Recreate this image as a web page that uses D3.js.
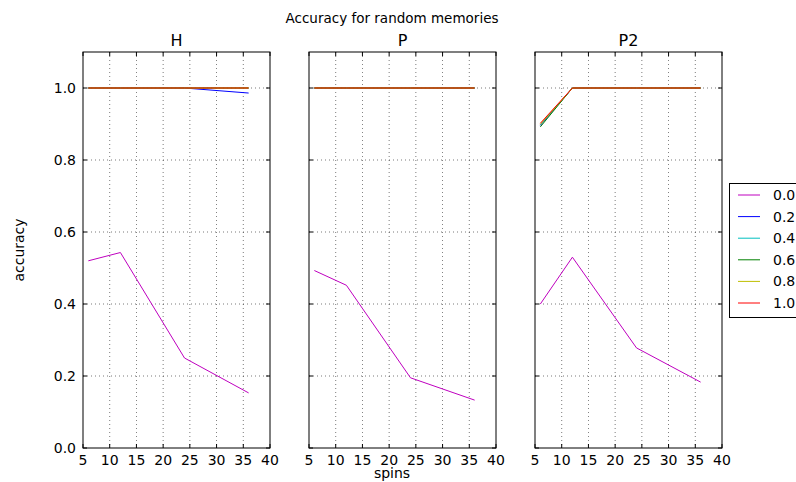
<html lang="en">
<head>
<meta charset="utf-8">
<script src="https://cdn.jsdelivr.net/npm/d3@7"></script>
<style>
  body { margin: 0; background: #fff; }
  text { font-family: "DejaVu Sans", sans-serif; fill: #000; }
  .grid line { stroke: #000; stroke-dasharray: 1,3; stroke-width: 0.7; opacity: 0.75; }
  .line { fill: none; stroke-width: 1; }
</style>
</head>
<body>
<div id="chart"></div>
<script>
var spins = [6, 12, 24, 36];
var noiseLevels = ["0.0", "0.2", "0.4", "0.6", "0.8", "1.0"];
var colors = ["#bf00bf", "#0000ff", "#00bfbf", "#008000", "#bfbf00", "#ff0000"];
var xTicks = [5, 10, 15, 20, 25, 30, 35, 40];
var yTicks = [0.0, 0.2, 0.4, 0.6, 0.8, 1.0];
var panelNames = ["H", "P", "P2"];

// accuracy per noise level, one array per panel
var accH = [
  [0.520, 0.543, 0.250, 0.153],
  [1.0, 1.0, 1.0, 0.986],
  [1.0, 1.0, 1.0, 1.0],
  [1.0, 1.0, 1.0, 1.0],
  [1.0, 1.0, 1.0, 1.0],
  [1.0, 1.0, 1.0, 1.0]
];
var accP = [
  [0.493, 0.452, 0.195, 0.133],
  [1.0, 1.0, 1.0, 1.0],
  [1.0, 1.0, 1.0, 1.0],
  [1.0, 1.0, 1.0, 1.0],
  [1.0, 1.0, 1.0, 1.0],
  [1.0, 1.0, 1.0, 1.0]
];
var accP2 = [
  [0.400, 0.530, 0.278, 0.183],
  [0.896, 1.0, 1.0, 1.0],
  [0.898, 1.0, 1.0, 1.0],
  [0.892, 1.0, 1.0, 1.0],
  [0.899, 1.0, 1.0, 1.0],
  [0.902, 1.0, 1.0, 1.0]
];
var panels = [accH, accP, accP2];

var width = 796, height = 482;
var svg = d3.select("#chart").append("svg")
  .attr("width", width).attr("height", height);

var panelLeft = [83, 309, 535], panelW = 187;
var plotTop = 52, plotBottom = 448;

var y = d3.scaleLinear().domain([0, 1.1]).range([plotBottom, plotTop]);

svg.append("text").attr("x", 392).attr("y", 23)
  .attr("text-anchor", "middle").style("font-size", "13.5px")
  .text("Accuracy for random memories");

panels.forEach(function(acc, p) {
  var x = d3.scaleLinear().domain([5, 40]).range([panelLeft[p], panelLeft[p] + panelW]);
  var g = svg.append("g");

  // grid
  var grid = g.append("g").attr("class", "grid");
  grid.selectAll(".gx").data(xTicks.slice(1, -1)).enter().append("line")
    .attr("x1", d => x(d)).attr("x2", d => x(d)).attr("y1", plotTop).attr("y2", plotBottom);
  grid.selectAll(".gy").data(yTicks.slice(1)).enter().append("line")
    .attr("x1", x(5)).attr("x2", x(40)).attr("y1", d => y(d)).attr("y2", d => y(d));

  // lines
  var line = d3.line().x((d, i) => x(spins[i])).y(d => y(d));
  acc.forEach(function(vals, k) {
    g.append("path").attr("class", "line")
      .attr("d", line(vals)).style("stroke", colors[k]);
  });

  // ticks (inward, both sides)
  var tk = g.append("g").style("stroke", "#000").style("stroke-width", 1);
  xTicks.forEach(function(t) {
    tk.append("line").attr("x1", x(t)).attr("x2", x(t)).attr("y1", plotBottom).attr("y2", plotBottom - 4);
    tk.append("line").attr("x1", x(t)).attr("x2", x(t)).attr("y1", plotTop).attr("y2", plotTop + 4);
  });
  yTicks.forEach(function(t) {
    tk.append("line").attr("x1", x(5)).attr("x2", x(5) + 4).attr("y1", y(t)).attr("y2", y(t));
    tk.append("line").attr("x1", x(40)).attr("x2", x(40) - 4).attr("y1", y(t)).attr("y2", y(t));
  });

  g.append("rect").attr("x", x(5)).attr("y", plotTop)
    .attr("width", panelW).attr("height", plotBottom - plotTop)
    .style("fill", "none").style("stroke", "#000").style("stroke-width", 1);

  g.selectAll(".xl").data(xTicks).enter().append("text")
    .attr("x", d => x(d)).attr("y", plotBottom + 17)
    .attr("text-anchor", "middle").style("font-size", "14px")
    .text(d => d);

  if (p === 0) {
    g.selectAll(".yl").data(yTicks).enter().append("text")
      .attr("x", x(5) - 7).attr("y", d => y(d) + 5)
      .attr("text-anchor", "end").style("font-size", "14px")
      .text(d => d.toFixed(1));
  }

  g.append("text").attr("x", x(22.5)).attr("y", 46)
    .attr("text-anchor", "middle").style("font-size", "16px")
    .text(panelNames[p]);
});

svg.append("text").attr("x", 392).attr("y", 478)
  .attr("text-anchor", "middle").style("font-size", "14px").text("spins");

svg.append("text").attr("transform", "translate(24,250) rotate(-90)")
  .attr("text-anchor", "middle").style("font-size", "14px").text("accuracy");

// legend
var lg = svg.append("g");
lg.append("rect").attr("x", 729.5).attr("y", 183.5).attr("width", 80).attr("height", 134)
  .style("fill", "#fff").style("stroke", "#000").style("stroke-width", 1);
noiseLevels.forEach(function(n, i) {
  var ly = 195 + i * 21.6;
  lg.append("line").attr("x1", 738).attr("x2", 760).attr("y1", ly).attr("y2", ly)
    .style("stroke", colors[i]).style("stroke-width", 1);
  lg.append("text").attr("x", 773).attr("y", ly + 5).style("font-size", "14px").text(n);
});
</script>
</body>
</html>
